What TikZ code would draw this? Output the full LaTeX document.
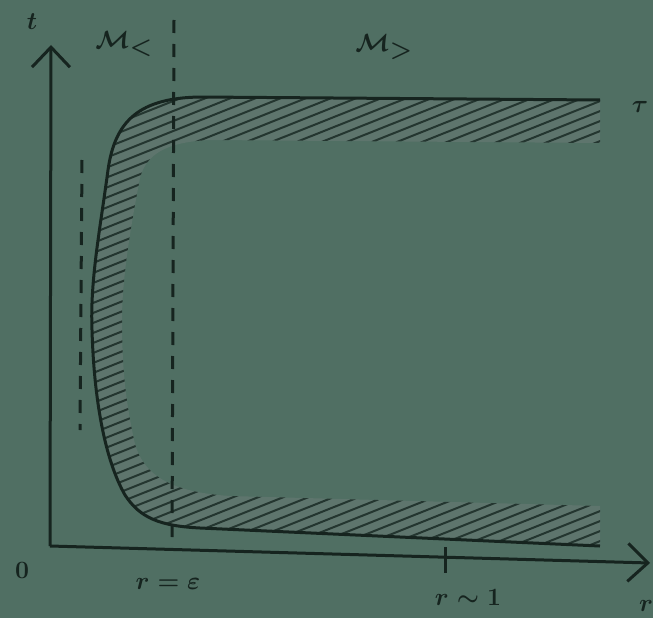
\documentclass[tikz,border=0pt]{standalone}
\usepackage{amsmath,amssymb}
\usepackage{xcolor}
\usepackage{tikz}
\usetikzlibrary{arrows.meta}
\definecolor{pizarra}{RGB}{80,111,99}
\definecolor{banda}{RGB}{94,117,109}
\definecolor{tiza}{RGB}{22,36,31}
\definecolor{rayado}{RGB}{36,54,48}
\tikzset{
  eje/.style={tiza,line width=3pt,-{Straight Barb[length=20pt,width=38pt]}},
  guia/.style={tiza,line width=3pt,dash pattern=on 13pt off 11pt},
  frontera/.style={tiza,line width=3pt},
  rayas/.style={rayado,line width=2pt},
  etiqueta/.style={text=tiza,font=\fontsize{34}{40}\selectfont\boldmath,inner sep=0pt}
}

\begin{document}
\begin{tikzpicture}[x=1pt,y=-1pt]
\useasboundingbox (0,0) rectangle (653,618);
\fill[pizarra] (0,0) rectangle (653,618);
% banda rayada junto a la frontera
\begin{scope}
\clip (600,100) -- (200,97) .. controls (140,98) and (115,120) .. (108,170)
  .. controls (100,230) and (90,280) .. (92,330)
  .. controls (94,400) and (105,460) .. (125,495)
  .. controls (140,518) and (160,526) .. (200,528) -- (600,546)
  -- (600,506) -- (230,496) .. controls (170,492) and (142,475) .. (134,440)
  .. controls (128,410) and (122,380) .. (122,320)
  .. controls (122,280) and (130,230) .. (140,178)
  .. controls (146,155) and (165,142) .. (210,140) -- (600,143) -- cycle;
\fill[banda] (0,0) rectangle (653,618);
\foreach \c in {120,130,...,840}
  \draw[rayas] (0,\c) -- (653,\c-260);
\end{scope}
\draw[frontera] (600,100) -- (200,97) .. controls (140,98) and (115,120) .. (108,170)
  .. controls (100,230) and (90,280) .. (92,330)
  .. controls (94,400) and (105,460) .. (125,495)
  .. controls (140,518) and (160,526) .. (200,528) -- (600,546);
% ejes
\coordinate (O) at (50,546);
\coordinate (tpunta) at (51,45);
\coordinate (rpunta) at (650,563);
\draw[eje] (O) -- (tpunta);
\draw[eje] (O) -- (rpunta);
% rectas punteadas
\coordinate (eps1) at (174,20); \coordinate (eps2) at (172,546);
\draw[guia] (eps1) -- (eps2);
\coordinate (izq1) at (82,160); \coordinate (izq2) at (80,430);
\draw[guia] (izq1) -- (izq2);
\coordinate (uno1) at (445,547); \coordinate (uno2) at (445,573);
\draw[frontera] (uno1) -- (uno2);
% etiquetas
\node[etiqueta] (t) at (32,22) {$t$};
\node[etiqueta,font=\fontsize{40}{46}\selectfont\boldmath] (Mmenor) at (124,44) {$\mathcal M_{<}$};
\node[etiqueta,font=\fontsize{40}{46}\selectfont\boldmath] (Mmayor) at (384,47) {$\mathcal M_{>}$};
\node[etiqueta] (tau) at (640,107) {$\tau$};
\node[etiqueta] (cero) at (22,570) {$0$};
\node[etiqueta] (reps) at (168,584) {$r=\varepsilon$};
\node[etiqueta] (runo) at (468,597) {$r\sim1$};
\node[etiqueta] (r) at (646,606) {$r$};
\end{tikzpicture}
\end{document}
